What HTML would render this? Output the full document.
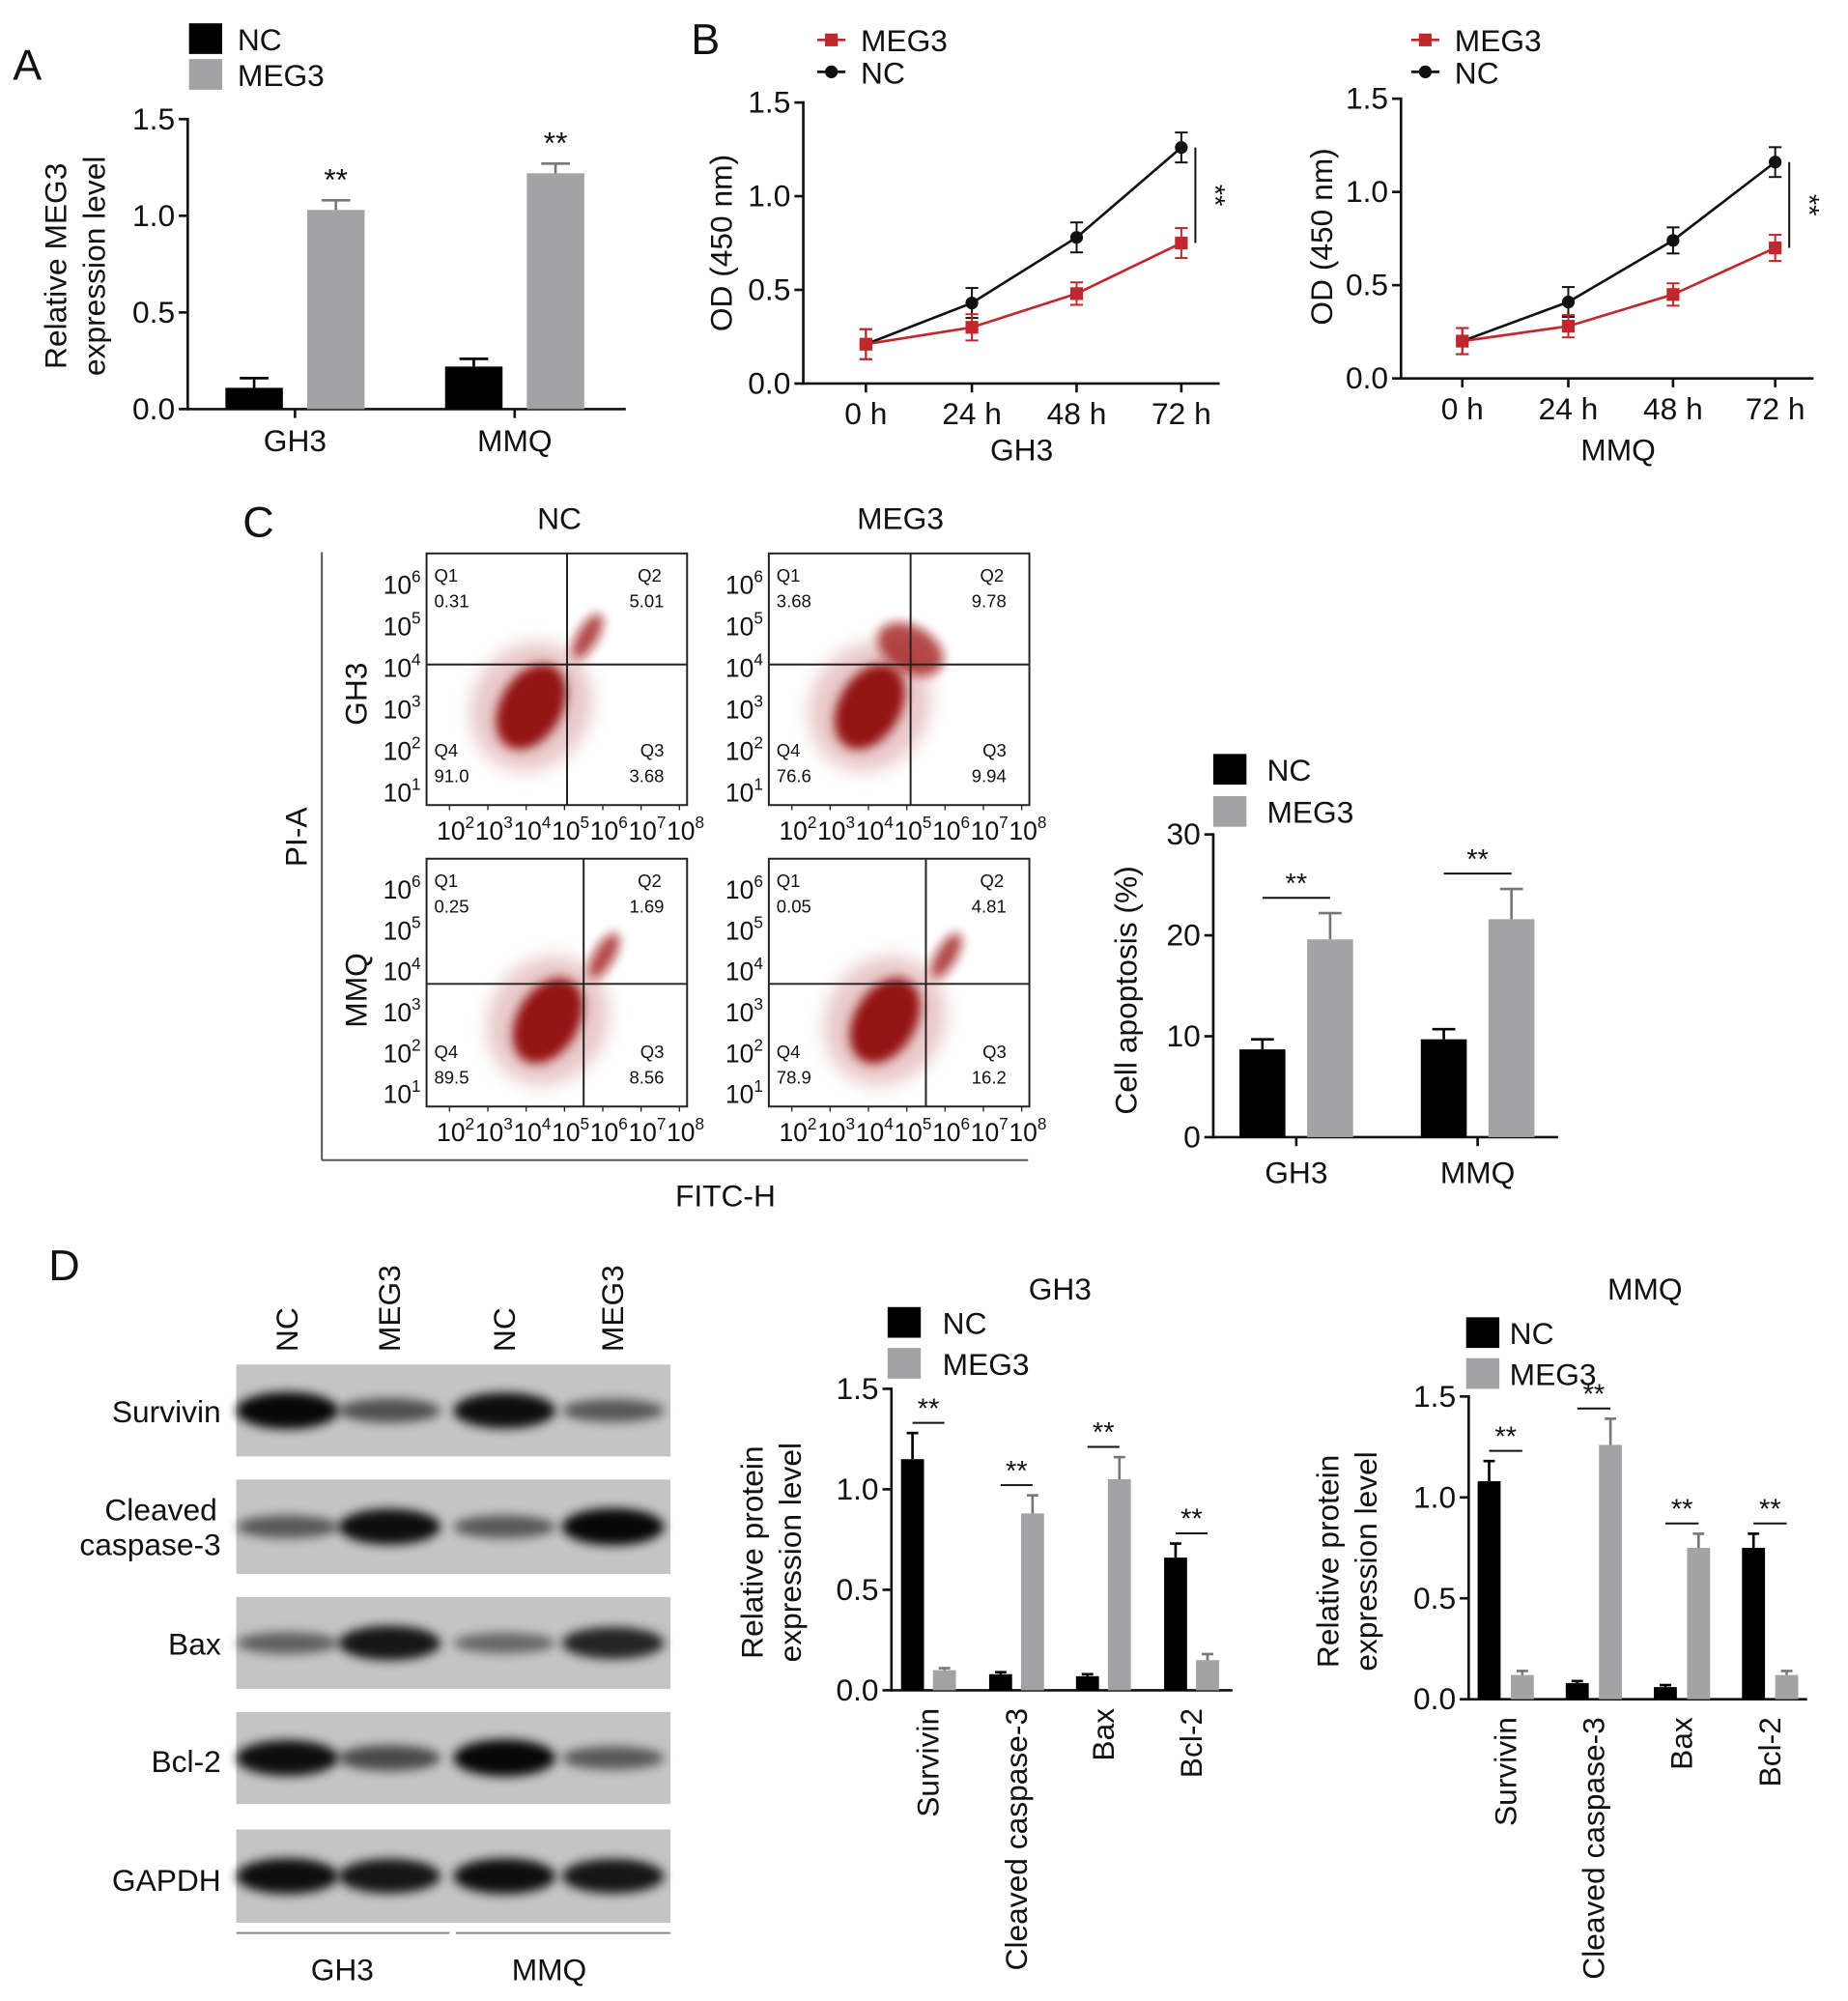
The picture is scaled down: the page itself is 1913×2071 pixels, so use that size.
<!DOCTYPE html>
<html><head><meta charset="utf-8"><style>
html,body{margin:0;padding:0;background:#fff;}
svg{display:block;font-family:"Liberation Sans",Arial,sans-serif;}
</style></head><body>
<svg id="fig" xmlns="http://www.w3.org/2000/svg" width="1913" height="2071" viewBox="0 0 1447 1566">
<defs>
<filter id="blur4" x="-50%" y="-50%" width="200%" height="200%"><feGaussianBlur stdDeviation="4"/></filter>
<filter id="blur8" x="-50%" y="-50%" width="200%" height="200%"><feGaussianBlur stdDeviation="7"/></filter>
<filter id="blur2" x="-50%" y="-50%" width="200%" height="200%"><feGaussianBlur stdDeviation="2"/></filter>
</defs>
<rect width="1447" height="1566" fill="#fff"/>
<g id="root"></g>
</svg>
<script>
// ---------- DATA ----------
// Panel A
const aCategories = ["GH3","MMQ"];
const aNC = [0.11, 0.22];
const aNCerr = [0.05, 0.04];
const aMEG3 = [1.03, 1.22];
const aMEG3err = [0.05, 0.05];
const aTicks = ["0.0","0.5","1.0","1.5"];
// Panel B
const bTimes = ["0 h","24 h","48 h","72 h"];
const bGH3_NC = [0.21, 0.43, 0.78, 1.26];
const bGH3_NCerr = [0.08, 0.08, 0.08, 0.08];
const bGH3_MEG3 = [0.21, 0.30, 0.48, 0.75];
const bGH3_MEG3err = [0.08, 0.07, 0.06, 0.08];
const bMMQ_NC = [0.20, 0.41, 0.74, 1.16];
const bMMQ_NCerr = [0.07, 0.08, 0.07, 0.08];
const bMMQ_MEG3 = [0.20, 0.28, 0.45, 0.70];
const bMMQ_MEG3err = [0.07, 0.06, 0.06, 0.07];
const bTicks = ["0.0","0.5","1.0","1.5"];
// Panel C apoptosis
const cCategories = ["GH3","MMQ"];
const cNC = [8.7, 9.7];
const cNCerr = [1.0, 1.0];
const cMEG3 = [19.6, 21.6];
const cMEG3err = [2.6, 3.0];
const cTicks = ["0","10","20","30"];
const flowQ1 = ["0.31","3.68","0.25","0.05"];
const flowQ2 = ["5.01","9.78","1.69","4.81"];
const flowQ3 = ["3.68","9.94","8.56","16.2"];
const flowQ4 = ["91.0","76.6","89.5","78.9"];
// Panel D
const dCategories = ["Survivin","Cleaved caspase-3","Bax","Bcl-2"];
const dGH3_NC = [1.15, 0.08, 0.07, 0.66];
const dGH3_NCerr = [0.13, 0.01, 0.01, 0.07];
const dGH3_MEG3 = [0.10, 0.88, 1.05, 0.15];
const dGH3_MEG3err = [0.01, 0.09, 0.11, 0.03];
const dMMQ_NC = [1.08, 0.08, 0.06, 0.75];
const dMMQ_NCerr = [0.10, 0.01, 0.01, 0.07];
const dMMQ_MEG3 = [0.12, 1.26, 0.75, 0.12];
const dMMQ_MEG3err = [0.02, 0.13, 0.07, 0.02];
const dTicks = ["0.0","0.5","1.0","1.5"];
const blotRows = ["Survivin","Cleaved caspase-3","Bax","Bcl-2","GAPDH"];
const blotIntensity = [[0.95,0.45,0.9,0.4],[0.4,0.9,0.4,0.95],[0.35,0.85,0.3,0.75],[0.9,0.5,0.95,0.4],[0.9,0.85,0.9,0.85]];

// ---------- HELPERS ----------
const NS="http://www.w3.org/2000/svg";
const root=document.getElementById('root');
function el(tag,attrs,parent,text){const e=document.createElementNS(NS,tag);for(const k in attrs)e.setAttribute(k,attrs[k]);if(text!==undefined)e.textContent=text;(parent||root).appendChild(e);return e;}
function txt(x,y,s,size,anchor,parent,rot){const a={x:x,y:y,'font-size':size,'text-anchor':anchor||'start',fill:'#111'};if(rot)a.transform='rotate(-90 '+x+' '+y+')';return el('text',a,parent,s);}
function line(x1,y1,x2,y2,parent,w,c){return el('line',{x1,y1,x2,y2,stroke:c||'#111','stroke-width':w||2},parent);}
function linScale(d0,d1,r0,r1){return v=>r0+(v-d0)/(d1-d0)*(r1-r0);}

// ---------- PANEL LABELS ----------
[["A",10,62],["B",541,42],["C",190,420],["D",38,1002]].forEach(p=>{const t=txt(p[1],p[2],p[0],34,'start');});

// ---------- GROUPED BAR CHART ----------
function barChart(o){
  const g=el('g',{},root);
  
  
  const y=linScale(0,o.max,o.y0,o.y1);
  line(o.x0,o.y1-1,o.x0,o.y0+1,g,2);
  line(o.x0,o.y0,o.xEnd,o.y0,g,2);
  o.ticks.forEach((t,i)=>{const v=o.max*i/(o.ticks.length-1);const yy=y(v);line(o.x0-7,yy,o.x0,yy,g,2);const tl=txt(o.x0-10,yy+8,t,o.tickSize||24,'end',g);});
  o.cats.forEach((c,i)=>{
    const cx=o.centers[i];
    const bars=[[o.nc[i],o.ncErr[i],'#000',cx-o.gap/2-o.bw],[o.meg[i],o.megErr[i],'#a3a3a5',cx+o.gap/2]];
    bars.forEach((b,j)=>{
      const top=y(b[0]);
      const r=el('rect',{x:b[3],y:top,width:o.bw,height:o.y0-top,fill:b[2]},g);
      
      
      const ex=b[3]+o.bw/2, et=y(b[0]+b[1]);
      line(ex,top,ex,et,g,2,b[2]==='#000'?'#000':'#777');
      line(ex-o.bw*0.25,et,ex+o.bw*0.25,et,g,2,b[2]==='#000'?'#000':'#777');
    });
    if(o.tickX) line(cx,o.y0,cx,o.y0+7,g,2);
    if(o.rotLabels){const t=txt(cx+8,o.y0+14,c,24,'end',g,true);}
    else {const t=txt(cx,o.labelY,c,24,'middle',g);}
    // significance
    const hi=Math.max(o.nc[i]+o.ncErr[i],o.meg[i]+o.megErr[i]);
    if(o.sig==='stars'){txt(o.centers[i]+o.gap/2+o.bw/2,y(hi)-8,'**',24,'middle',g);}
    else if(o.sig==='bracket'){const by=y(hi)-o.bOff;const x1=cx-o.gap/2-o.bw/2,x2=cx+o.gap/2+o.bw/2;line(x1,by,x2,by,g,1.5);txt((x1+x2)/2,by-4,'**',22,'middle',g);}
  });
  // y title
  o.ytitle.forEach((t,k)=>{const tt=txt(o.ytx+k*30,o.yty,t,24,'middle',g,true);});
  // legend
  if(o.leg){[['NC','#000'],['MEG3','#a3a3a5']].forEach((L,k)=>{const lg=el('g',{},g);el('rect',{x:o.leg[0],y:o.leg[1]+k*o.leg[2],width:26,height:24,fill:L[1]},lg);txt(o.leg[0]+o.leg[3],o.leg[1]+k*o.leg[2]+21,L[0],24,'start',lg);});}
  if(o.title){const t=txt(o.title[0],o.title[1],o.title[2],24,'middle',g);}
}

barChart({name:'panel-a-chart',x0:147,xEnd:490,y0:320,y1:93,max:1.5,ticks:aTicks,cats:aCategories,centers:[231,403],bw:45,gap:19,nc:aNC,ncErr:aNCerr,meg:aMEG3,megErr:aMEG3err,tickX:true,labelY:353,sig:'stars',ytitle:['Relative MEG3','expression level'],ytx:52,yty:208,leg:[148,18,28,38]});

barChart({name:'panel-c-apoptosis-chart',x0:950,xEnd:1220,y0:890,y1:653,max:30,ticks:cTicks,cats:cCategories,centers:[1015,1157],bw:36,gap:17,nc:cNC,ncErr:cNCerr,meg:cMEG3,megErr:cMEG3err,tickX:true,labelY:926,sig:'bracket',bOff:12,ytitle:['Cell apoptosis (%)'],ytx:890,yty:775,leg:[950,590,33,42]});

barChart({name:'panel-d-gh3-chart',x0:698,xEnd:965,y0:1323,y1:1087,max:1.5,ticks:dTicks,cats:dCategories,centers:[727,796,864,933],bw:18,gap:7,nc:dGH3_NC,ncErr:dGH3_NCerr,meg:dGH3_MEG3,megErr:dGH3_MEG3err,tickX:false,rotLabels:true,sig:'bracket',bOff:8,ytitle:['Relative protein','expression level'],ytx:597,yty:1215,leg:[695,1023,32,43],title:[830,1017,'GH3']});

barChart({name:'panel-d-mmq-chart',x0:1150,xEnd:1415,y0:1330,y1:1093,max:1.5,ticks:dTicks,cats:dCategories,centers:[1179,1248,1317,1386],bw:18,gap:8,nc:dMMQ_NC,ncErr:dMMQ_NCerr,meg:dMMQ_MEG3,megErr:dMMQ_MEG3err,tickX:false,rotLabels:true,sig:'bracket',bOff:8,ytitle:['Relative protein','expression level'],ytx:1048,yty:1222,leg:[1148,1031,32,34],title:[1288,1017,'MMQ']});

// ---------- LINE CHARTS ----------
function lineChart(o){
  const g=el('g',{},root);
  
  
  const y=linScale(0,1.5,o.y0,o.y1);
  line(o.x0,o.y1-1,o.x0,o.y0+1,g,2);
  line(o.x0,o.y0,o.xEnd,o.y0,g,2);
  bTicks.forEach((t,i)=>{const yy=y(0.5*i);line(o.x0-7,yy,o.x0,yy,g,2);txt(o.x0-10,yy+8,t,24,'end',g);});
  bTimes.forEach((t,i)=>{line(o.xs[i],o.y0,o.xs[i],o.y0+7,g,2);const tl=txt(o.xs[i],o.y0+32,t,24,'middle',g);});
  [[o.nc,o.ncErr,'#111','circle','nc'],[o.meg,o.megErr,'#c0282d','square','meg3']].forEach(S=>{
    const pts=S[0].map((v,i)=>o.xs[i]+','+y(v)).join(' ');
    const pl=el('polyline',{points:pts,fill:'none',stroke:S[2],'stroke-width':2},g);
    
    
    S[0].forEach((v,i)=>{
      const x=o.xs[i];line(x,y(v-S[1][i]),x,y(v+S[1][i]),g,1.5,S[2]);line(x-5,y(v+S[1][i]),x+5,y(v+S[1][i]),g,1.5,S[2]);line(x-5,y(v-S[1][i]),x+5,y(v-S[1][i]),g,1.5,S[2]);
      let m;
      if(S[3]==='circle') m=el('circle',{cx:x,cy:y(v),r:5,fill:S[2]},g); else m=el('rect',{x:x-5,y:y(v)-5,width:10,height:10,fill:S[2]},g);
      
      
    });
  });
  const n=o.nc.length-1;const bx=o.xs[n]+11;
  line(bx,y(o.nc[n]),bx,y(o.meg[n]),g,1.5);
  txt(bx+8,(y(o.nc[n])+y(o.meg[n]))/2,'**',22,'middle',g).setAttribute('transform','rotate(90 '+(bx+8)+' '+((y(o.nc[n])+y(o.meg[n]))/2)+')');
  const tt=txt(o.ytx,o.yty,'OD (450 nm)',24,'middle',g,true);
  const xt=txt(o.title[0],o.title[1],o.title[2],24,'middle',g);
  // legend
  const lg1=el('g',{},g);
  line(o.leg[0],o.leg[1],o.leg[0]+22,o.leg[1],lg1,2,'#c0282d');el('rect',{x:o.leg[0]+6,y:o.leg[1]-5,width:10,height:10,fill:'#c0282d'},lg1);txt(o.leg[0]+34,o.leg[1]+9,'MEG3',24,'start',lg1);
  const lg2=el('g',{},g);
  line(o.leg[0],o.leg[1]+25,o.leg[0]+22,o.leg[1]+25,lg2,2,'#111');el('circle',{cx:o.leg[0]+11,cy:o.leg[1]+25,r:5,fill:'#111'},lg2);txt(o.leg[0]+34,o.leg[1]+34,'NC',24,'start',lg2);
}
lineChart({name:'panel-b-gh3-chart',x0:629,xEnd:955,y0:300,y1:80,xs:[678,761,843,925],nc:bGH3_NC,ncErr:bGH3_NCerr,meg:bGH3_MEG3,megErr:bGH3_MEG3err,ytx:573,yty:190,title:[800,360,'GH3'],leg:[640,31]});
lineChart({name:'panel-b-mmq-chart',x0:1097,xEnd:1420,y0:296,y1:77,xs:[1145,1228,1310,1390],nc:bMMQ_NC,ncErr:bMMQ_NCerr,meg:bMMQ_MEG3,megErr:bMMQ_MEG3err,ytx:1043,yty:185,title:[1267,360,'MMQ'],leg:[1105,31]});

// ---------- FLOW CYTOMETRY ----------
(function(){
  const g=el('g',{},root);
  
  
  line(252,432,252,908,g,1.5,'#555');line(252,908,805,908,g,1.5,'#555');
  const t1=txt(240,655,'PI-A',24,'middle',g,true);
  const t2=txt(568,944,'FITC-H',24,'middle',g);
  txt(438,414,'NC',24,'middle',g);txt(705,414,'MEG3',24,'middle',g);
  txt(287,543,'GH3',24,'middle',g,true);txt(287,775,'MMQ',24,'middle',g,true);
  const boxes=[[334,433,538,630,444,520],[602,433,806,630,713,520],[334,672,538,866,457,770],[602,672,806,866,725,770]];
  boxes.forEach((b,k)=>{
    const bg=el('g',{},g);
    // clouds
    const cx=b[4]-28-(k%2)*4, cy=b[5]+(b[3]-b[5])*0.3;
    el('ellipse',{cx:cx,cy:cy,rx:46,ry:52,fill:'#c06060',opacity:0.35,filter:'url(#blur8)',transform:'rotate(30 '+cx+' '+cy+')'},bg);
    el('ellipse',{cx:cx,cy:cy,rx:24,ry:36,fill:'#8b0000',opacity:0.9,filter:'url(#blur4)',transform:'rotate(30 '+cx+' '+cy+')'},bg);
    const ux=b[4]+(k===1?0:16), uy=b[5]-(k===1?12:22);
    el('ellipse',{cx:ux,cy:uy,rx:k===1?28:8,ry:k===1?18:20,fill:'#9b1010',opacity:0.75,filter:'url(#blur4)',transform:'rotate(30 '+ux+' '+uy+')'},bg);
    el('rect',{x:b[0],y:b[1],width:b[2]-b[0],height:b[3]-b[1],fill:'none',stroke:'#222','stroke-width':1.5},bg);
    line(b[4],b[1],b[4],b[3],bg,1.5,'#222');line(b[0],b[5],b[2],b[5],bg,1.5,'#222');
    const f=14;
    txt(b[0]+6,b[1]+22,'Q1',f,'start',bg);txt(b[0]+6,b[1]+42,flowQ1[k],f,'start',bg);
    txt(b[2]-22,b[1]+22,'Q2',f,'end',bg).setAttribute('x',b[2]-20);txt(b[2]-18,b[1]+42,flowQ2[k],f,'end',bg);
    txt(b[0]+6,b[3]-38,'Q4',f,'start',bg);txt(b[0]+6,b[3]-18,flowQ4[k],f,'start',bg);
    txt(b[2]-18,b[3]-38,'Q3',f,'end',bg);txt(b[2]-18,b[3]-18,flowQ3[k],f,'end',bg);
    // y ticks 10^6..10^1
    const h=b[3]-b[1];
    [6,5,4,3,2,1].forEach((e,i)=>{const yy=b[1]+h*(0.12+i*0.165);const tg=el('text',{x:b[0]-34,y:yy+8,'font-size':20,fill:'#111'},bg);tg.textContent='10';const s=el('tspan',{dy:-9,'font-size':13},tg);s.textContent=e;});
    [2,3,4,5,6,7,8].forEach((e,i)=>{const xx=b[0]+8+i*30;line(xx+10,b[3],xx+10,b[3]+4,bg,1,'#222');const tg=el('text',{x:xx,y:b[3]+27,'font-size':20,fill:'#111'},bg);tg.textContent='10';const s=el('tspan',{dy:-9,'font-size':13},tg);s.textContent=e;});
  });
})();

// ---------- WESTERN BLOT ----------
(function(){
  const g=el('g',{},root);
  
  
  const rows=[[1068,1140],[1158,1232],[1250,1322],[1340,1412],[1432,1505]];
  const lanes=[225,305,395,480];
  ['NC','MEG3','NC','MEG3'].forEach((l,i)=>{const t=txt(lanes[i]+8,1058,l,24,'start',g,true);});
  rows.forEach((r,ri)=>{
    const rg=el('g',{},g);
    el('rect',{x:185,y:r[0],width:340,height:r[1]-r[0],fill:'#c4c4c4'},rg);
    const cy=(r[0]+r[1])/2;
    blotIntensity[ri].forEach((v,li)=>{
      el('ellipse',{cx:lanes[li],cy:cy,rx:40,ry:5+10*v,fill:'#000',opacity:Math.min(1,0.25+v*0.75),filter:'url(#blur4)'},rg);
    });
  });
  txt(173,1113,'Survivin',24,'end',g);
  txt(170,1190,'Cleaved',24,'end',g);txt(173,1217,'caspase-3',24,'end',g);
  txt(173,1295,'Bax',24,'end',g);txt(173,1387,'Bcl-2',24,'end',g);txt(173,1480,'GAPDH',24,'end',g);
  line(185,1513,352,1513,g,1.5,'#888');line(357,1513,525,1513,g,1.5,'#888');
  txt(268,1550,'GH3',24,'middle',g);txt(430,1550,'MMQ',24,'middle',g);
})();
</script>
</body></html>
